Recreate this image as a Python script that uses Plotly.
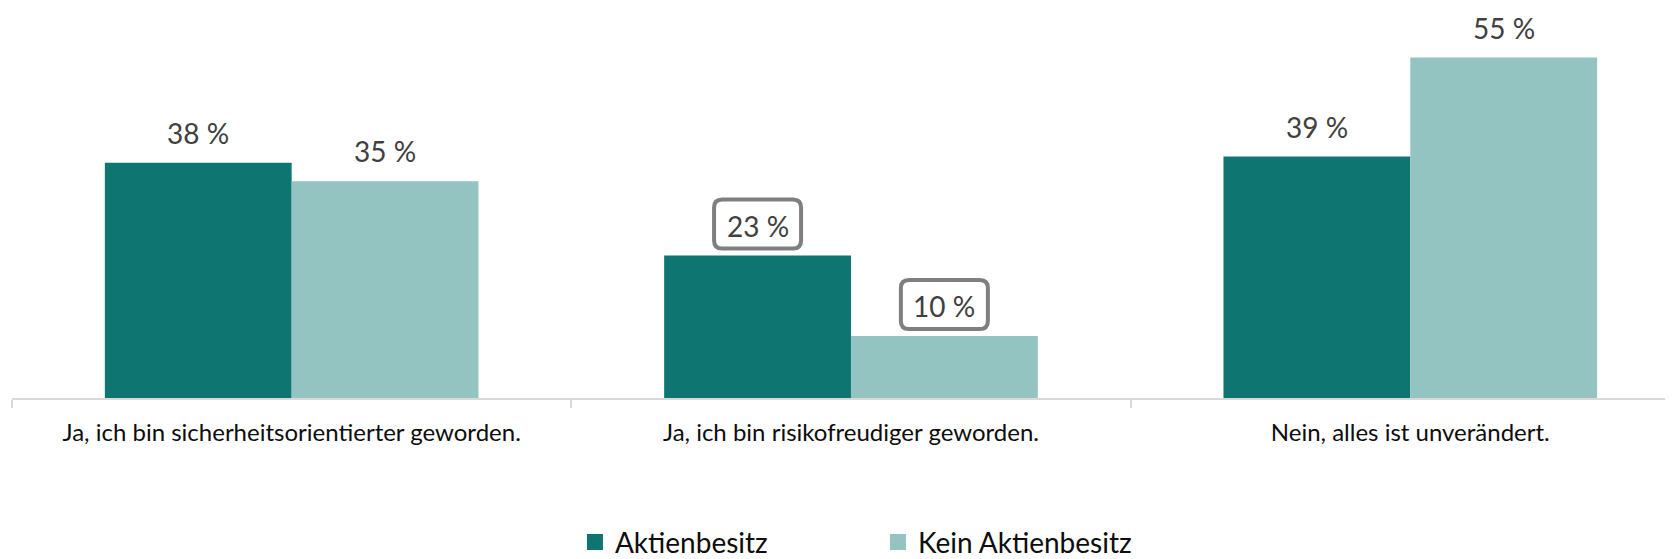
import plotly.graph_objects as go

categories = ["Ja, ich bin sicherheitsorientierter geworden.",
              "Ja, ich bin risikofreudiger geworden.",
              "Nein, alles ist unverändert."]
series_names = ["Aktienbesitz", "Kein Aktienbesitz"]
aktien = [38, 23, 39]
kein_aktien = [35, 10, 55]
boxed = [[False, True, False], [False, True, False]]

colors = ["#0E7570", "#94C4C1"]
values = [aktien, kein_aktien]

FONT = "Lato"
BARGAP = 0.332
bar_w = (1 - BARGAP) / 2
offsets = [-bar_w / 2, bar_w / 2]

fig = go.Figure()
for s in range(2):
    fig.add_trace(go.Bar(x=categories, y=values[s], name=series_names[s],
                         marker=dict(color=colors[s], line=dict(width=0)),
                         showlegend=False, hoverinfo="skip"))
for s in range(2):
    fig.add_trace(go.Scatter(x=[None], y=[None], mode="markers", name=series_names[s],
                             marker=dict(symbol="square", size=18, color=colors[s]),
                             showlegend=True, hoverinfo="skip"))

LABEL_SHIFT = 30
annotations = []
shapes = []
for s in range(2):
    for i, v in enumerate(values[s]):
        xpos = i + offsets[s]
        annotations.append(dict(x=xpos, y=v, xref="x", yref="y", text=f"{v} %",
                                showarrow=False, yanchor="middle", xanchor="center",
                                yshift=LABEL_SHIFT,
                                font=dict(family=FONT, size=28, color="#404040")))
        if boxed[s][i]:
            w, h, r, cy = 43.5, 24.5, 8, LABEL_SHIFT + 1.5
            path = (f"M{-w + r},{cy + h} H{w - r} Q{w},{cy + h} {w},{cy + h - r} "
                    f"V{cy - h + r} Q{w},{cy - h} {w - r},{cy - h} H{-w + r} "
                    f"Q{-w},{cy - h} {-w},{cy - h + r} V{cy + h - r} "
                    f"Q{-w},{cy + h} {-w + r},{cy + h} Z")
            shapes.append(dict(type="path", xref="x", yref="y",
                               xsizemode="pixel", ysizemode="pixel",
                               xanchor=xpos, yanchor=v, path=path,
                               fillcolor="white", line=dict(color="#7F7F7F", width=4),
                               layer="above"))

fig.update_layout(
    width=1673, height=559,
    margin=dict(l=4, r=0, t=0, b=169, autoexpand=False),
    paper_bgcolor="white", plot_bgcolor="white",
    barmode="group", bargap=BARGAP, bargroupgap=0,
    annotations=annotations, shapes=shapes,
    showlegend=True,
    legend=dict(orientation="h", x=0.3373, xanchor="left", y=-0.306, yanchor="top",
                font=dict(family=FONT, size=28, color="#0D0D0D"),
                entrywidth=258, itemwidth=30, bgcolor="rgba(0,0,0,0)"),
    xaxis=dict(type="category", range=[-0.5, 2.484], showline=True,
               linecolor="#D9D9D9", linewidth=1.5, ticks="outside", tickson="boundaries",
               ticklen=8, tickcolor="#D9D9D9", tickwidth=1.5, showgrid=False,
               tickfont=dict(family=FONT, size=24, color="#0D0D0D"),
               ticklabelstandoff=12),
    yaxis=dict(range=[0, 63.0], visible=False, showgrid=False, zeroline=False),
)

fig.write_html("out.html")
